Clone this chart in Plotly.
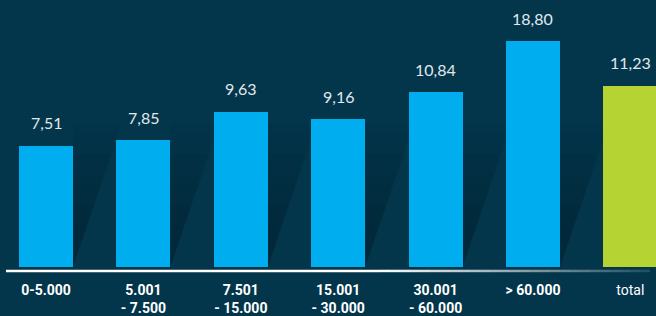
import plotly.graph_objects as go

# ---- data ----
categories = ["0-5.000", "5.001<br>- 7.500", "7.501<br>- 15.000", "15.001<br>- 30.000",
              "30.001<br>- 60.000", "> 60.000", "total"]
values = [7.51, 7.85, 9.63, 9.16, 10.84, 18.80, 11.23]
bold_ticks = [True, True, True, True, True, True, False]

# ---- style ----
BG = "#03364b"
BLUE = "#00aeef"
GREEN = "#b6d334"
TEXT = "#e1e9ee"
YMAX = 14.0
BAR_W = 0.554
X_RANGE = [-0.4723, 6.263]

colors = [BLUE] * (len(values) - 1) + [GREEN]
idx = list(range(len(values)))

fig = go.Figure()
fig.add_trace(go.Bar(
    x=idx, y=values, width=BAR_W, marker=dict(color=colors, line=dict(width=0)),
    hoverinfo="skip",
))

shapes = []
# diagonal shadows cast to the right of the blue bars
SH_H = 8.9      # shadow height in data units
SH_D = 0.50     # horizontal run of the diagonal in category units
N = 14
for i in idx[:-1]:
    xr = i + BAR_W / 2
    for k in range(N):
        y0 = SH_H * k / N
        y1 = SH_H * (k + 1) / N
        a = 0.45 * (1 - (k / N) ** 1.6)
        path = (f"M {xr},{y0} L {xr + SH_D * y0 / SH_H},{y0} "
                f"L {xr + SH_D * y1 / SH_H},{y1} L {xr},{y1} Z")
        shapes.append(dict(type="path", path=path, xref="x", yref="y",
                           fillcolor=f"rgba(0,25,38,{a:.3f})", line=dict(width=0),
                           layer="below"))

# baseline with fade on the right
W = 656.0
y_line = -4.0 / 228.0
x_start, x_fade, x_end = 6, 380, 650
shapes.append(dict(type="line", xref="paper", yref="paper", x0=x_start / W, x1=x_fade / W,
                   y0=y_line, y1=y_line, line=dict(color="white", width=2.5)))
steps = 27
for s in range(steps):
    xa = x_fade + (x_end - x_fade) * s / steps
    xb = x_fade + (x_end - x_fade) * (s + 1) / steps
    op = 1 - 0.88 * (s + 0.5) / steps
    shapes.append(dict(type="line", xref="paper", yref="paper", x0=xa / W, x1=xb / W,
                       y0=y_line, y1=y_line,
                       line=dict(color=f"rgba(255,255,255,{op:.3f})", width=2.5)))

annotations = []
for i, v in zip(idx, values):
    annotations.append(dict(
        x=i, y=min(v, YMAX), xref="x", yref="y", text=f"{v:.2f}".replace(".", ","),
        showarrow=False, yanchor="middle", yshift=23,
        font=dict(family="Lato, sans-serif", size=16, color=TEXT),
    ))

ticktext = [f"<b>{c}</b>" if b else c for c, b in zip(categories, bold_ticks)]

fig.update_layout(
    width=656, height=316,
    margin=dict(l=0, r=0, t=41, b=47, pad=0),
    paper_bgcolor=BG, plot_bgcolor=BG,
    showlegend=False,
    shapes=shapes,
    annotations=annotations,
    xaxis=dict(range=X_RANGE, tickmode="array", tickvals=idx, ticktext=ticktext,
               showgrid=False, zeroline=False, showline=False, ticks="",
               ticklabelstandoff=13,
               tickfont=dict(family="Roboto, sans-serif", size=14, color="white")),
    yaxis=dict(range=[0, YMAX], visible=False, showgrid=False, zeroline=False),
    bargap=0,
)

fig.write_html(
    "out.html",
    config={"displayModeBar": False},
    post_script="document.body.style.margin='0';document.body.style.overflow='hidden';",
)
